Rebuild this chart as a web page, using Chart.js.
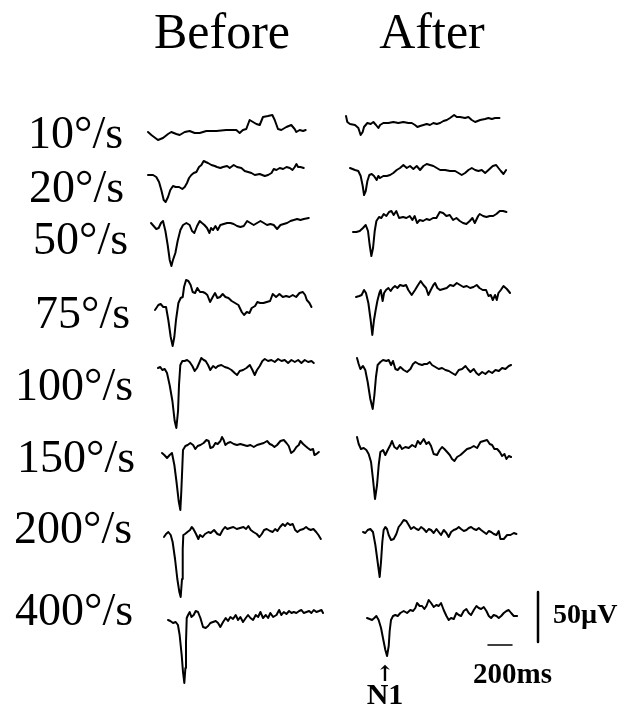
<!DOCTYPE html>
<html>
<head>
<meta charset="utf-8">
<script src="https://cdn.jsdelivr.net/npm/chart.js@4.4.1/dist/chart.umd.min.js"></script>
<style>
    html, body { margin: 0; padding: 0; background: #fff; }
    #wrap { position: relative; width: 632px; height: 715px; }
</style>
</head>
<body>
<div id="wrap"><canvas id="erpChart"></canvas></div>
<script>
// ---- data: [time in ms from trace start, amplitude in µV relative to trace start] ----
var speeds = ['10°/s', '20°/s', '50°/s', '75°/s', '100°/s', '150°/s', '200°/s', '400°/s'];
var conditions = ['Before', 'After'];
var scaleBarUV = 50;
var scaleBarMs = 200;
var peakLabel = 'N1';

var before10 = [[0,0],[28,-3],[83,-8],[125,-6],[167,-2],[194,0],[236,-2],[264,-3],[306,0],[347,1],[389,-1],[431,-1],[486,1],[569,1],[652,2],[736,2],[764,-1],[791,2],[819,3],[847,12],[875,10],[903,8],[931,7],[958,15],[1000,16],[1036,17],[1056,12],[1083,3],[1111,2],[1153,5],[1194,7],[1222,3],[1236,0],[1264,2],[1292,1],[1314,2]];
var after10 = [[0,0],[11,-6],[33,-8],[75,-9],[103,-12],[122,-19],[139,-16],[150,-11],[178,-7],[206,-8],[228,-6],[250,-9],[270,-12],[284,-9],[311,-7],[353,-7],[395,-6],[436,-7],[478,-6],[520,-7],[548,-7],[575,-9],[595,-11],[617,-10],[645,-9],[673,-8],[700,-9],[728,-7],[756,-8],[784,-7],[812,-5],[840,-4],[867,-2],[901,1],[923,-1],[951,-1],[992,-2],[1020,-1],[1048,-4],[1076,-6],[1118,-4],[1159,-3],[1187,-2],[1215,-3],[1243,-2],[1279,-2]];
var before20 = [[0,0],[42,0],[69,-2],[92,-7],[111,-15],[131,-25],[147,-27],[167,-22],[186,-15],[208,-11],[231,-12],[259,-12],[286,-14],[306,-12],[325,-8],[342,-3],[361,0],[381,2],[403,3],[425,8],[445,10],[464,14],[481,13],[500,12],[528,10],[556,9],[575,8],[603,7],[625,8],[659,9],[681,7],[714,10],[742,8],[778,7],[806,4],[834,3],[862,2],[890,0],[931,1],[973,-1],[1001,0],[1029,2],[1048,6],[1070,5],[1098,7],[1126,6],[1154,8],[1182,7],[1204,5],[1223,8],[1237,11],[1251,8],[1270,8],[1298,7]];
var after20 = [[0,0],[42,-2],[69,-3],[89,-8],[106,-18],[117,-27],[131,-23],[145,-13],[161,-7],[181,-6],[200,-8],[222,-12],[236,-8],[250,-10],[278,-8],[306,-8],[334,-7],[361,-5],[389,-2],[417,0],[445,3],[473,0],[500,2],[528,-1],[556,2],[584,-2],[612,2],[639,4],[667,3],[695,2],[723,0],[751,-2],[792,-2],[834,-3],[876,-3],[904,-5],[931,-7],[959,-5],[987,-2],[1015,0],[1043,-2],[1070,-3],[1098,-2],[1126,-5],[1154,-2],[1190,2],[1218,3],[1237,0],[1257,-3],[1279,-6],[1301,-2]];
var before50 = [[0,0],[22,-3],[44,-6],[64,-5],[83,0],[100,2],[120,-8],[139,-22],[156,-37],[170,-43],[183,-37],[203,-30],[222,-18],[245,-7],[267,-2],[295,0],[322,-2],[342,-8],[361,-10],[384,-3],[406,2],[425,0],[445,-2],[467,-5],[487,-10],[500,-5],[517,-7],[537,-3],[556,-7],[578,-2],[606,-1],[634,0],[662,0],[689,-1],[717,-3],[745,-4],[773,-3],[801,2],[828,0],[856,-2],[884,0],[912,2],[940,0],[967,-2],[995,-1],[1023,-2],[1051,-6],[1079,-2],[1106,-1],[1134,0],[1162,2],[1190,3],[1218,4],[1245,3],[1273,4],[1315,5]];
var after50 = [[0,0],[28,0],[56,1],[83,4],[106,7],[125,1],[139,-13],[153,-24],[167,-16],[181,1],[195,11],[217,15],[236,14],[256,18],[278,16],[300,20],[320,21],[339,17],[361,21],[384,14],[417,15],[445,14],[473,16],[495,12],[514,16],[534,9],[556,12],[584,11],[612,13],[639,12],[667,14],[695,14],[723,20],[751,19],[778,16],[806,17],[834,12],[862,14],[890,11],[917,9],[945,8],[973,11],[995,14],[1015,9],[1043,16],[1056,18],[1084,16],[1112,15],[1140,16],[1168,16],[1195,18],[1223,21],[1251,21],[1279,20]];
var before75 = [[0,0],[28,5],[47,6],[69,3],[92,3],[111,-10],[131,-27],[147,-36],[161,-27],[175,-10],[195,7],[214,12],[231,13],[242,23],[259,30],[278,29],[297,25],[314,18],[334,17],[353,22],[375,18],[398,18],[417,17],[436,15],[459,8],[481,13],[500,17],[520,12],[542,13],[564,16],[587,13],[612,12],[639,9],[667,7],[695,5],[723,-2],[742,-5],[765,-2],[787,-3],[806,2],[834,4],[853,8],[876,7],[904,7],[931,8],[959,9],[981,16],[1009,13],[1037,16],[1065,13],[1093,14],[1120,13],[1148,15],[1176,13],[1204,17],[1232,18],[1251,15],[1265,10],[1287,7],[1304,3]];
var after75 = [[0,0],[28,1],[47,2],[67,7],[83,4],[103,-6],[122,-23],[136,-38],[150,-23],[164,-13],[178,-4],[195,4],[206,7],[222,-4],[234,4],[250,7],[270,9],[289,6],[306,9],[325,11],[345,9],[367,12],[395,11],[417,12],[436,7],[464,2],[492,7],[512,11],[539,16],[562,12],[584,9],[603,2],[623,7],[645,12],[659,14],[678,9],[700,7],[728,8],[756,9],[784,12],[812,11],[840,14],[867,12],[895,10],[923,11],[951,9],[979,10],[1006,12],[1029,9],[1056,7],[1084,7],[1104,1],[1123,2],[1140,-3],[1159,2],[1173,-3],[1187,4],[1207,7],[1229,11],[1257,8],[1284,4]];
var before100 = [[0,0],[19,1],[36,-2],[56,-1],[75,-5],[97,-17],[120,-33],[139,-53],[153,-60],[167,-43],[175,-17],[186,3],[203,7],[222,7],[242,8],[264,6],[286,2],[306,-3],[325,0],[347,6],[361,10],[381,8],[397,7],[417,3],[436,-2],[459,2],[481,0],[500,2],[528,3],[556,1],[584,0],[612,-2],[639,-5],[659,-7],[681,-3],[709,-2],[737,0],[765,3],[787,-2],[806,-7],[825,-2],[848,2],[870,7],[890,9],[917,7],[945,8],[973,6],[1001,9],[1029,7],[1056,8],[1084,5],[1112,8],[1140,6],[1168,8],[1195,5],[1223,8],[1251,6],[1279,7],[1298,5]];
var after100 = [[0,0],[14,-6],[28,-11],[50,-8],[69,-12],[89,-24],[111,-41],[131,-51],[145,-37],[158,-19],[172,-7],[195,-4],[217,-2],[245,-3],[264,-2],[284,-7],[300,-3],[320,-11],[339,-12],[361,-9],[389,-12],[417,-14],[445,-11],[467,-6],[487,-4],[514,-6],[542,-7],[562,-6],[584,-6],[606,-4],[625,-7],[653,-9],[681,-11],[709,-10],[737,-12],[765,-13],[792,-15],[820,-17],[848,-12],[876,-11],[904,-8],[923,-11],[945,-14],[973,-11],[995,-15],[1015,-17],[1043,-14],[1070,-16],[1098,-13],[1126,-15],[1154,-12],[1182,-13],[1209,-10],[1237,-11],[1265,-8],[1284,-7]];
var before150 = [[0,0],[19,-2],[42,-5],[64,-2],[83,0],[103,-12],[120,-28],[139,-48],[153,-57],[161,-38],[170,-12],[175,3],[195,7],[214,8],[236,10],[259,8],[278,4],[297,7],[320,8],[347,10],[370,13],[389,12],[403,5],[425,6],[445,10],[464,9],[487,12],[500,16],[514,13],[528,8],[548,10],[570,11],[598,9],[625,8],[653,9],[681,8],[709,7],[737,8],[765,6],[792,8],[820,9],[848,10],[876,12],[898,9],[917,8],[937,6],[959,8],[987,12],[1015,13],[1037,10],[1056,7],[1076,0],[1098,2],[1120,6],[1140,8],[1154,12],[1176,9],[1195,7],[1215,5],[1237,3],[1259,4],[1270,-2],[1287,-1],[1307,1]];
var after150 = [[0,0],[14,-7],[33,-12],[56,-11],[78,-13],[97,-17],[117,-25],[133,-42],[150,-62],[167,-48],[181,-28],[195,-15],[217,-13],[236,-18],[256,-13],[278,-8],[292,-4],[311,-10],[334,-12],[356,-8],[375,-12],[403,-10],[431,-11],[459,-8],[487,-10],[506,-4],[528,-7],[556,-2],[578,-7],[598,-5],[617,-9],[639,-17],[667,-18],[689,-13],[709,-10],[728,-12],[751,-15],[773,-18],[792,-22],[812,-24],[834,-20],[862,-18],[890,-15],[917,-12],[945,-11],[973,-9],[1001,-11],[1029,-5],[1056,-4],[1084,-3],[1106,-7],[1126,-8],[1145,-12],[1168,-12],[1190,-15],[1209,-19],[1229,-17],[1245,-22],[1265,-19],[1284,-20]];
var before200 = [[0,0],[17,3],[36,5],[56,2],[72,-5],[92,-22],[111,-42],[128,-55],[139,-60],[150,-42],[156,-12],[161,2],[175,3],[195,5],[217,7],[231,10],[245,8],[267,3],[286,-2],[300,2],[322,0],[342,3],[370,5],[389,4],[417,7],[445,3],[467,2],[489,7],[509,10],[528,8],[550,9],[578,10],[606,8],[634,9],[662,10],[684,8],[703,11],[723,7],[745,5],[773,3],[795,0],[815,3],[834,7],[856,8],[884,6],[906,5],[926,8],[945,6],[967,10],[990,13],[1009,11],[1029,14],[1051,12],[1073,13],[1093,7],[1112,5],[1134,7],[1162,8],[1184,10],[1204,8],[1223,7],[1245,8],[1268,5],[1287,2],[1307,-2]];
var after200 = [[0,0],[19,-1],[39,2],[61,3],[83,0],[103,-13],[122,-30],[139,-45],[150,-30],[161,-10],[172,2],[186,5],[200,3],[214,-3],[234,-8],[256,-7],[278,-2],[297,5],[317,8],[339,12],[361,11],[381,7],[400,3],[423,5],[445,3],[464,2],[484,5],[506,3],[528,0],[548,3],[567,2],[589,-1],[612,3],[631,0],[650,-3],[673,2],[695,-1],[714,-5],[734,0],[756,2],[778,3],[798,5],[817,3],[840,1],[862,2],[881,4],[901,5],[923,3],[945,2],[965,4],[984,2],[1006,0],[1029,-2],[1048,1],[1068,0],[1090,-2],[1112,-3],[1131,1],[1145,-7],[1173,-7],[1201,-3],[1229,-3],[1257,-1],[1279,-2]];
var before400 = [[0,0],[19,-1],[42,-3],[64,-2],[83,-5],[97,-15],[114,-35],[125,-52],[136,-63],[145,-48],[150,-22],[156,2],[167,5],[181,8],[195,3],[214,5],[231,9],[250,8],[270,2],[292,-7],[314,-8],[334,-6],[353,-3],[375,-2],[398,-1],[417,-3],[436,-7],[459,-2],[481,2],[500,-1],[520,3],[542,1],[564,5],[584,0],[603,3],[625,-2],[648,2],[667,5],[687,2],[709,0],[731,5],[751,3],[770,8],[792,2],[815,5],[834,2],[853,7],[876,3],[904,5],[926,10],[945,5],[965,8],[987,6],[1009,9],[1029,7],[1048,8],[1070,7],[1093,9],[1112,10],[1131,7],[1154,8],[1176,9],[1195,7],[1215,10],[1237,8],[1259,9],[1279,10],[1292,7]];
var after400 = [[0,0],[22,-1],[42,-2],[61,0],[78,2],[97,-2],[117,-10],[133,-20],[153,-32],[167,-38],[181,-28],[189,-13],[200,-2],[217,2],[236,3],[256,2],[278,5],[306,7],[334,5],[361,8],[384,7],[403,10],[417,15],[439,12],[459,12],[478,9],[495,12],[514,18],[534,15],[556,11],[578,13],[598,12],[617,15],[639,8],[662,2],[681,-2],[700,0],[723,-1],[745,5],[765,3],[784,2],[806,7],[828,9],[848,5],[867,3],[890,8],[912,12],[931,10],[951,9],[973,11],[995,7],[1015,2],[1034,0],[1056,3],[1079,2],[1098,0],[1118,2],[1140,5],[1162,7],[1181,8],[1201,5],[1223,2],[1251,2]];

var beforeTraces = [before10, before20, before50, before75, before100, before150, before200, before400];
var afterTraces = [after10, after20, after50, after75, after100, after150, after200, after400];

// ---- layout (page pixels) ----
var W = 632, H = 715;
var PX_PER_MS = 0.12;   // 200 ms bar is ~24 px
var PX_PER_UV = 1;      // 50 µV bar is ~50 px
var serif = '"Liberation Serif", "Times New Roman", serif';

// start point of each trace [x, y] in px
var beforeOrigins = [[148,132],[148,175],[151,223],[155,310],[158,368],[162,453],[164,537],[168,620]];
var afterOrigins = [[346,116],[350,168],[353,232],[356,297],[357,358],[357,437],[363,532],[367,618]];

var speedLabelPos = [[28,148],[29,202],[33,254],[35,328],[15,400],[17,472],[14,543],[15,625]];
var conditionPos = [[222,48],[432,48]];
var vBarPos = [538,642];   // bottom of the µV bar
var hBarPos = [488,645];   // left end of the ms bar
var peakPos = [385,681,704]; // x, arrow baseline, label baseline

function pxToX(px) { return px / PX_PER_MS; }
function pxToY(py) { return -py / PX_PER_UV; }

function toPoints(trace, origin) {
    var x0 = pxToX(origin[0]), y0 = pxToY(origin[1]);
    return trace.map(function(p) { return { x: x0 + p[0], y: y0 + p[1] }; });
}

var datasets = [];
beforeTraces.forEach(function(tr, i) {
    datasets.push({ label: conditions[0] + ' ' + speeds[i], data: toPoints(tr, beforeOrigins[i]), borderWidth: 2 });
});
afterTraces.forEach(function(tr, i) {
    datasets.push({ label: conditions[1] + ' ' + speeds[i], data: toPoints(tr, afterOrigins[i]), borderWidth: 2 });
});
// calibration bars
datasets.push({ label: 'uV bar', data: [
    { x: pxToX(vBarPos[0]), y: pxToY(vBarPos[1]) },
    { x: pxToX(vBarPos[0]), y: pxToY(vBarPos[1]) + scaleBarUV }
], borderWidth: 2.5 });
datasets.push({ label: 'ms bar', data: [
    { x: pxToX(hBarPos[0]), y: pxToY(hBarPos[1]) },
    { x: pxToX(hBarPos[0]) + scaleBarMs, y: pxToY(hBarPos[1]) }
], borderWidth: 1.5 });

datasets.forEach(function(d) {
    d.showLine = true;
    d.borderColor = '#000';
    d.pointRadius = 0;
    d.tension = 0;
    d.fill = false;
    d.borderJoinStyle = 'round';
    d.borderCapStyle = 'round';
});

/**
 * writes the row / column labels and the calibration texts
 */
var textPlugin = {
    id: 'figureText',
    afterDatasetsDraw: function(chart) {
        var ctx = chart.ctx;
        ctx.save();
        ctx.fillStyle = '#000';
        ctx.textBaseline = 'alphabetic';

        ctx.font = '50px ' + serif;
        ctx.textAlign = 'center';
        conditions.forEach(function(c, i) {
            ctx.fillText(c, conditionPos[i][0], conditionPos[i][1]);
        });

        ctx.font = '46px ' + serif;
        ctx.textAlign = 'left';
        speeds.forEach(function(s, i) {
            ctx.fillText(s, speedLabelPos[i][0], speedLabelPos[i][1]);
        });

        ctx.font = 'bold 28px ' + serif;
        ctx.fillText(scaleBarUV + 'µV', 553, 623);
        ctx.font = 'bold 29px ' + serif;
        ctx.fillText(scaleBarMs + 'ms', 473, 683);

        ctx.textAlign = 'center';
        ctx.font = 'bold 22px "DejaVu Serif", serif';
        ctx.fillText('↑', peakPos[0], peakPos[1]);
        ctx.font = 'bold 30px ' + serif;
        ctx.fillText(peakLabel, peakPos[0], peakPos[2]);
        ctx.restore();
    }
};

var chart = new Chart(document.getElementById('erpChart'), {
    type: 'scatter',
    data: { datasets: datasets },
    options: {
        responsive: true,
        maintainAspectRatio: false,
        animation: false,
        layout: { padding: 0 },
        plugins: { legend: { display: false }, tooltip: { enabled: false } },
        scales: {
            x: { type: 'linear', display: false, min: 0, max: W / PX_PER_MS },
            y: { type: 'linear', display: false, min: -H / PX_PER_UV, max: 0 }
        }
    },
    plugins: [textPlugin]
});
</script>
</body>
</html>
